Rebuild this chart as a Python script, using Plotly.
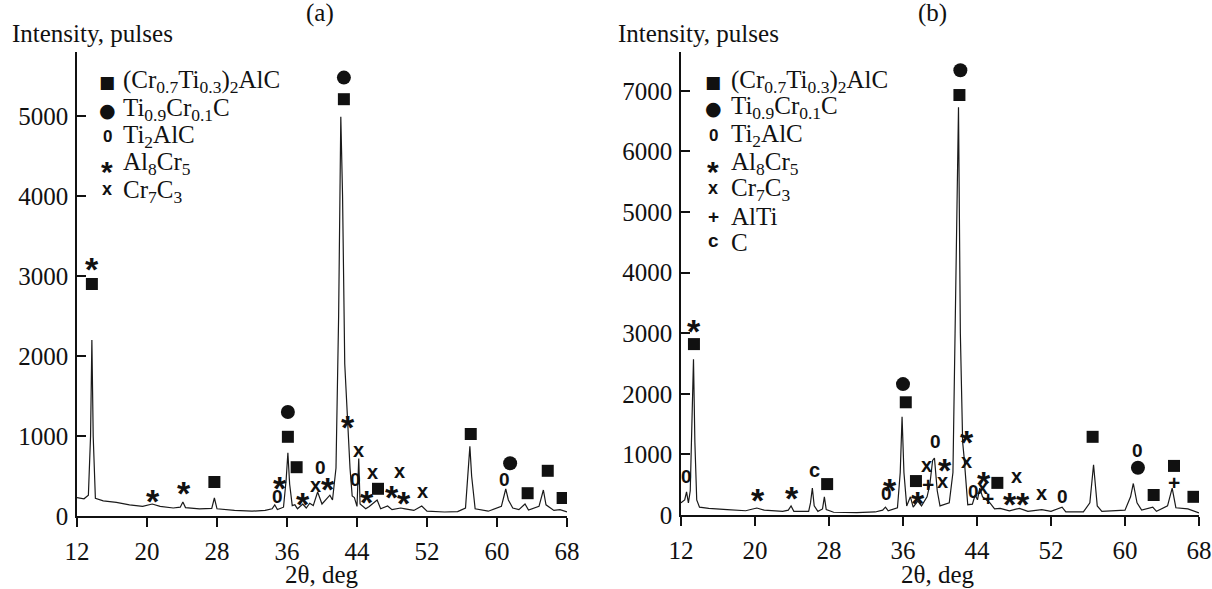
import plotly.graph_objects as go

# ---------------- data: panel (a) ----------------
a_theta = [12.0, 12.8, 13.3, 13.55, 13.7, 13.85, 14.1, 15.0, 16.5, 18.0, 19.5, 20.6, 21.5, 23.0, 23.8, 24.1, 24.4,
           26.0, 27.4, 27.7, 28.0, 30.0, 32.0, 33.5, 34.3, 34.6, 34.9, 35.6, 35.9, 36.1, 36.3, 36.6, 36.9, 37.2,
           37.8, 38.2, 38.6, 39.0, 39.5, 40.0, 40.9, 41.2, 41.6, 41.9, 42.15, 42.35, 42.6, 42.9, 43.2, 43.45,
           43.7, 44.0, 44.2, 44.35, 45.0, 45.4, 46.3, 46.7, 47.5, 48.0, 49.0, 49.5, 50.5, 51.4, 52.0, 54.0,
           55.5, 56.4, 56.7, 56.9, 57.1, 57.5, 59.0, 60.5, 60.8, 61.0, 61.3, 61.8, 62.5, 63.2, 63.6, 64.8,
           65.3, 65.6, 66.5, 67.2, 68.0]
a_int = [230, 215, 260, 1000, 2200, 1000, 220, 190, 170, 140, 120, 150, 120, 100, 110, 175, 105,
         90, 95, 225, 90, 70, 60, 70, 90, 140, 80, 110, 450, 790, 400, 130, 140, 90,
         150, 100, 160, 130, 300, 150, 260, 200, 600, 2500, 4990, 4000, 1900, 1250, 600, 250,
         230, 120, 720, 150, 90, 120, 200, 90, 125, 80, 100, 90, 70, 125, 60, 50,
         55, 100, 500, 870, 500, 90, 60, 120, 250, 340, 200, 100, 80, 150, 75, 120,
         325, 140, 70, 80, 50]

a_sq_x = [13.7, 27.7, 36.1, 37.1, 42.5, 46.4, 57.0, 63.5, 65.8, 67.5]
a_sq_y = [2900, 425, 990, 610, 5210, 340, 1025, 285, 565, 225]
a_ci_x = [36.1, 42.5, 61.5]
a_ci_y = [1300, 5480, 660]
a_o_x = [34.9, 39.8, 43.8, 60.8]
a_o_y = [240, 610, 450, 460]
a_st_x = [13.7, 20.7, 24.2, 35.2, 37.8, 40.7, 43.0, 45.1, 48.0, 49.4]
a_st_y = [3200, 300, 400, 460, 260, 450, 1225, 290, 350, 275]
a_x_x = [39.3, 44.2, 45.8, 48.9, 51.5]
a_x_y = [360, 800, 525, 540, 290]

# ---------------- data: panel (b) ----------------
b_theta = [12.0, 12.4, 12.6, 12.8, 13.0, 13.2, 13.35, 13.5, 13.7, 14.0, 15.0, 17.0, 19.0, 20.2, 21.0, 23.0,
           23.6, 23.9, 24.2, 25.8, 26.0, 26.2, 26.4, 26.8, 27.3, 27.5, 27.7, 28.5, 31.0, 33.0, 33.8, 34.1,
           34.4, 35.4, 35.7, 35.9, 36.1, 36.4, 36.8, 37.1, 37.6, 38.0, 38.6, 38.9, 39.2, 39.4, 39.7, 40.0,
           40.5, 41.0, 41.4, 41.7, 42.0, 42.2, 42.45, 42.6, 42.8, 43.0, 43.5, 43.8, 44.05, 44.3, 44.6, 45.0,
           45.4, 45.9, 46.5, 47.5, 48.6, 49.5, 51.0, 52.0, 53.2, 53.6, 55.5, 56.2, 56.6, 57.0, 57.5, 60.0,
           60.6, 60.9, 61.3, 61.8, 63.0, 63.4, 64.6, 65.1, 65.5, 66.8, 68.0]
b_int = [200, 250, 380, 200, 400, 1500, 2570, 1200, 250, 130, 110, 90, 70, 115, 80, 60,
         80, 150, 60, 60, 200, 445, 150, 60, 100, 300, 90, 45, 40, 50, 80, 130,
         70, 120, 700, 1620, 700, 150, 300, 130, 230, 150, 300, 500, 900, 940, 400, 150,
         170, 200, 700, 3500, 6730, 3000, 1200, 960, 530, 170, 180, 330, 250, 445, 300, 250,
         200, 100, 110, 70, 110, 60, 90, 60, 130, 50, 50, 200, 830, 150, 60, 80,
         300, 520, 200, 80, 130, 60, 150, 445, 120, 100, 35]

b_sq_x = [13.4, 27.8, 36.3, 37.4, 42.1, 46.2, 56.5, 63.1, 65.3, 67.4]
b_sq_y = [2820, 510, 1860, 560, 6930, 530, 1290, 330, 810, 300]
b_ci_x = [36.0, 42.2, 61.4]
b_ci_y = [2160, 7340, 780]
b_o_x = [12.6, 34.2, 39.5, 43.6, 53.2, 61.3]
b_o_y = [630, 350, 1220, 380, 300, 1060]
b_st_x = [13.4, 20.3, 24.0, 34.6, 37.6, 40.5, 42.9, 44.8, 47.6, 49.0]
b_st_y = [3180, 400, 430, 560, 350, 890, 1350, 680, 330, 330]
b_x_x = [38.5, 40.3, 42.9, 44.6, 48.3, 51.0]
b_x_y = [790, 530, 860, 430, 610, 330]
b_p_x = [38.7, 45.2, 65.3]
b_p_y = [500, 280, 530]
b_c_x = [26.4]
b_c_y = [710]

x_ticks = [12, 20, 28, 36, 44, 52, 60, 68]
legend_a = ["(Cr<sub>0.7</sub>Ti<sub>0.3</sub>)<sub>2</sub>AlC", "Ti<sub>0.9</sub>Cr<sub>0.1</sub>C",
            "Ti<sub>2</sub>AlC", "Al<sub>8</sub>Cr<sub>5</sub>", "Cr<sub>7</sub>C<sub>3</sub>"]
legend_b = legend_a + ["AlTi", "C"]

SERIF = "Liberation Serif"
SANS = "Liberation Sans"
LINE = "#1a1a1a"
FS = 25

fig = go.Figure()

fig.add_trace(go.Scatter(x=a_theta, y=a_int, mode="lines", line=dict(color=LINE, width=1.2),
                         xaxis="x", yaxis="y", showlegend=False))
fig.add_trace(go.Scatter(x=b_theta, y=b_int, mode="lines", line=dict(color=LINE, width=1.2),
                         xaxis="x2", yaxis="y2", showlegend=False))

for xs, ys, sym, size, ax, ay in [
    (a_sq_x, a_sq_y, "square", 12, "x", "y"),
    (a_ci_x, a_ci_y, "circle", 14, "x", "y"),
    (b_sq_x, b_sq_y, "square", 12, "x2", "y2"),
    (b_ci_x, b_ci_y, "circle", 14, "x2", "y2"),
]:
    fig.add_trace(go.Scatter(x=xs, y=ys, mode="markers", xaxis=ax, yaxis=ay, showlegend=False,
                             marker=dict(symbol=sym, size=size, color="#111", line=dict(width=0))))

glyphs = {
    "o": dict(text="0", size=19, yshift=0),
    "*": dict(text="*", size=34, yshift=-9),
    "x": dict(text="x", size=20, yshift=2),
    "+": dict(text="+", size=21, yshift=0),
    "c": dict(text="c", size=20, yshift=2),
}

annotations = []


def add_glyphs(xs, ys, key, xref, yref):
    g = glyphs[key]
    for xv, yv in zip(xs, ys):
        annotations.append(dict(x=xv, y=yv, xref=xref, yref=yref, text="<b>%s</b>" % g["text"],
                                showarrow=False, yshift=g["yshift"],
                                font=dict(family=SANS, size=g["size"], color="#111")))


add_glyphs(a_o_x, a_o_y, "o", "x", "y")
add_glyphs(a_st_x, a_st_y, "*", "x", "y")
add_glyphs(a_x_x, a_x_y, "x", "x", "y")
add_glyphs(b_o_x, b_o_y, "o", "x2", "y2")
add_glyphs(b_st_x, b_st_y, "*", "x2", "y2")
add_glyphs(b_x_x, b_x_y, "x", "x2", "y2")
add_glyphs(b_p_x, b_p_y, "+", "x2", "y2")
add_glyphs(b_c_x, b_c_y, "c", "x2", "y2")

W, H = 1212, 589


def px(x):
    return x / W


def py(y):
    return 1 - y / H


# legend symbols + labels
sym_text = ["■", "●", "<b>0</b>", "<b>*</b>", "<b>x</b>", "<b>+</b>", "<b>c</b>"]
sym_font = [("DejaVu Sans", 17, 0), ("DejaVu Sans", 19, 0), (SANS, 17, 0), (SANS, 30, -8),
            (SANS, 18, 2), (SANS, 19, 0), (SANS, 19, 2)]
rows_a = [82, 110, 137, 164, 191]
rows_b = [82, 108, 136, 163, 190, 216, 242]
for labels, rows, sx, tx in [(legend_a, rows_a, 107, 121), (legend_b, rows_b, 713, 729)]:
    for i, (lab, ry) in enumerate(zip(labels, rows)):
        fam, fs, ys = sym_font[i]
        annotations.append(dict(x=px(sx), y=py(ry), xref="paper", yref="paper", text=sym_text[i],
                                showarrow=False, xanchor="center", yanchor="middle", yshift=ys,
                                font=dict(family=fam, size=fs, color="#111")))
        annotations.append(dict(x=px(tx), y=py(ry), xref="paper", yref="paper", text=lab,
                                showarrow=False, xanchor="left", yanchor="middle",
                                font=dict(family=SERIF, size=FS, color="#111")))

# titles / axis labels
for t, xx, yy, anc in [("Intensity, pulses", 10, 34, "left"), ("Intensity, pulses", 616, 34, "left"),
                       ("(a)", 320, 13, "center"), ("(b)", 932, 13, "center"),
                       ("2θ, deg", 322, 574, "center"), ("2θ, deg", 938, 574, "center")]:
    annotations.append(dict(x=px(xx), y=py(yy), xref="paper", yref="paper", text=t, showarrow=False,
                            xanchor=anc, yanchor="middle", font=dict(family=SERIF, size=FS, color="#111")))

axis_common = dict(showline=True, linecolor="#111", linewidth=1.5, showgrid=False, zeroline=False,
                   tickfont=dict(family=SERIF, size=FS, color="#111"), tickcolor="#111",
                   tickwidth=1.5, ticklen=9, automargin=False)

fig.update_layout(
    width=W, height=H, margin=dict(l=0, r=0, t=0, b=0, autoexpand=False),
    paper_bgcolor="white", plot_bgcolor="white", showlegend=False,
    xaxis=dict(domain=[px(77), px(567)], range=[12, 68], tickvals=x_ticks, ticks="outside",
               anchor="y", ticklabelstandoff=3, **axis_common),
    yaxis=dict(domain=[py(516), py(52)], range=[0, 5800], dtick=1000, tick0=0, ticks="inside",
               anchor="x", ticklabelstandoff=2, **axis_common),
    xaxis2=dict(domain=[px(681), px(1199)], range=[12, 68], tickvals=x_ticks, ticks="outside",
                anchor="y2", ticklabelstandoff=3, **axis_common),
    yaxis2=dict(domain=[py(515), py(52)], range=[0, 7640], dtick=1000, tick0=0, ticks="inside",
                anchor="x2", ticklabelstandoff=2, **axis_common),
    annotations=annotations,
)

fig.write_html("out.html")
